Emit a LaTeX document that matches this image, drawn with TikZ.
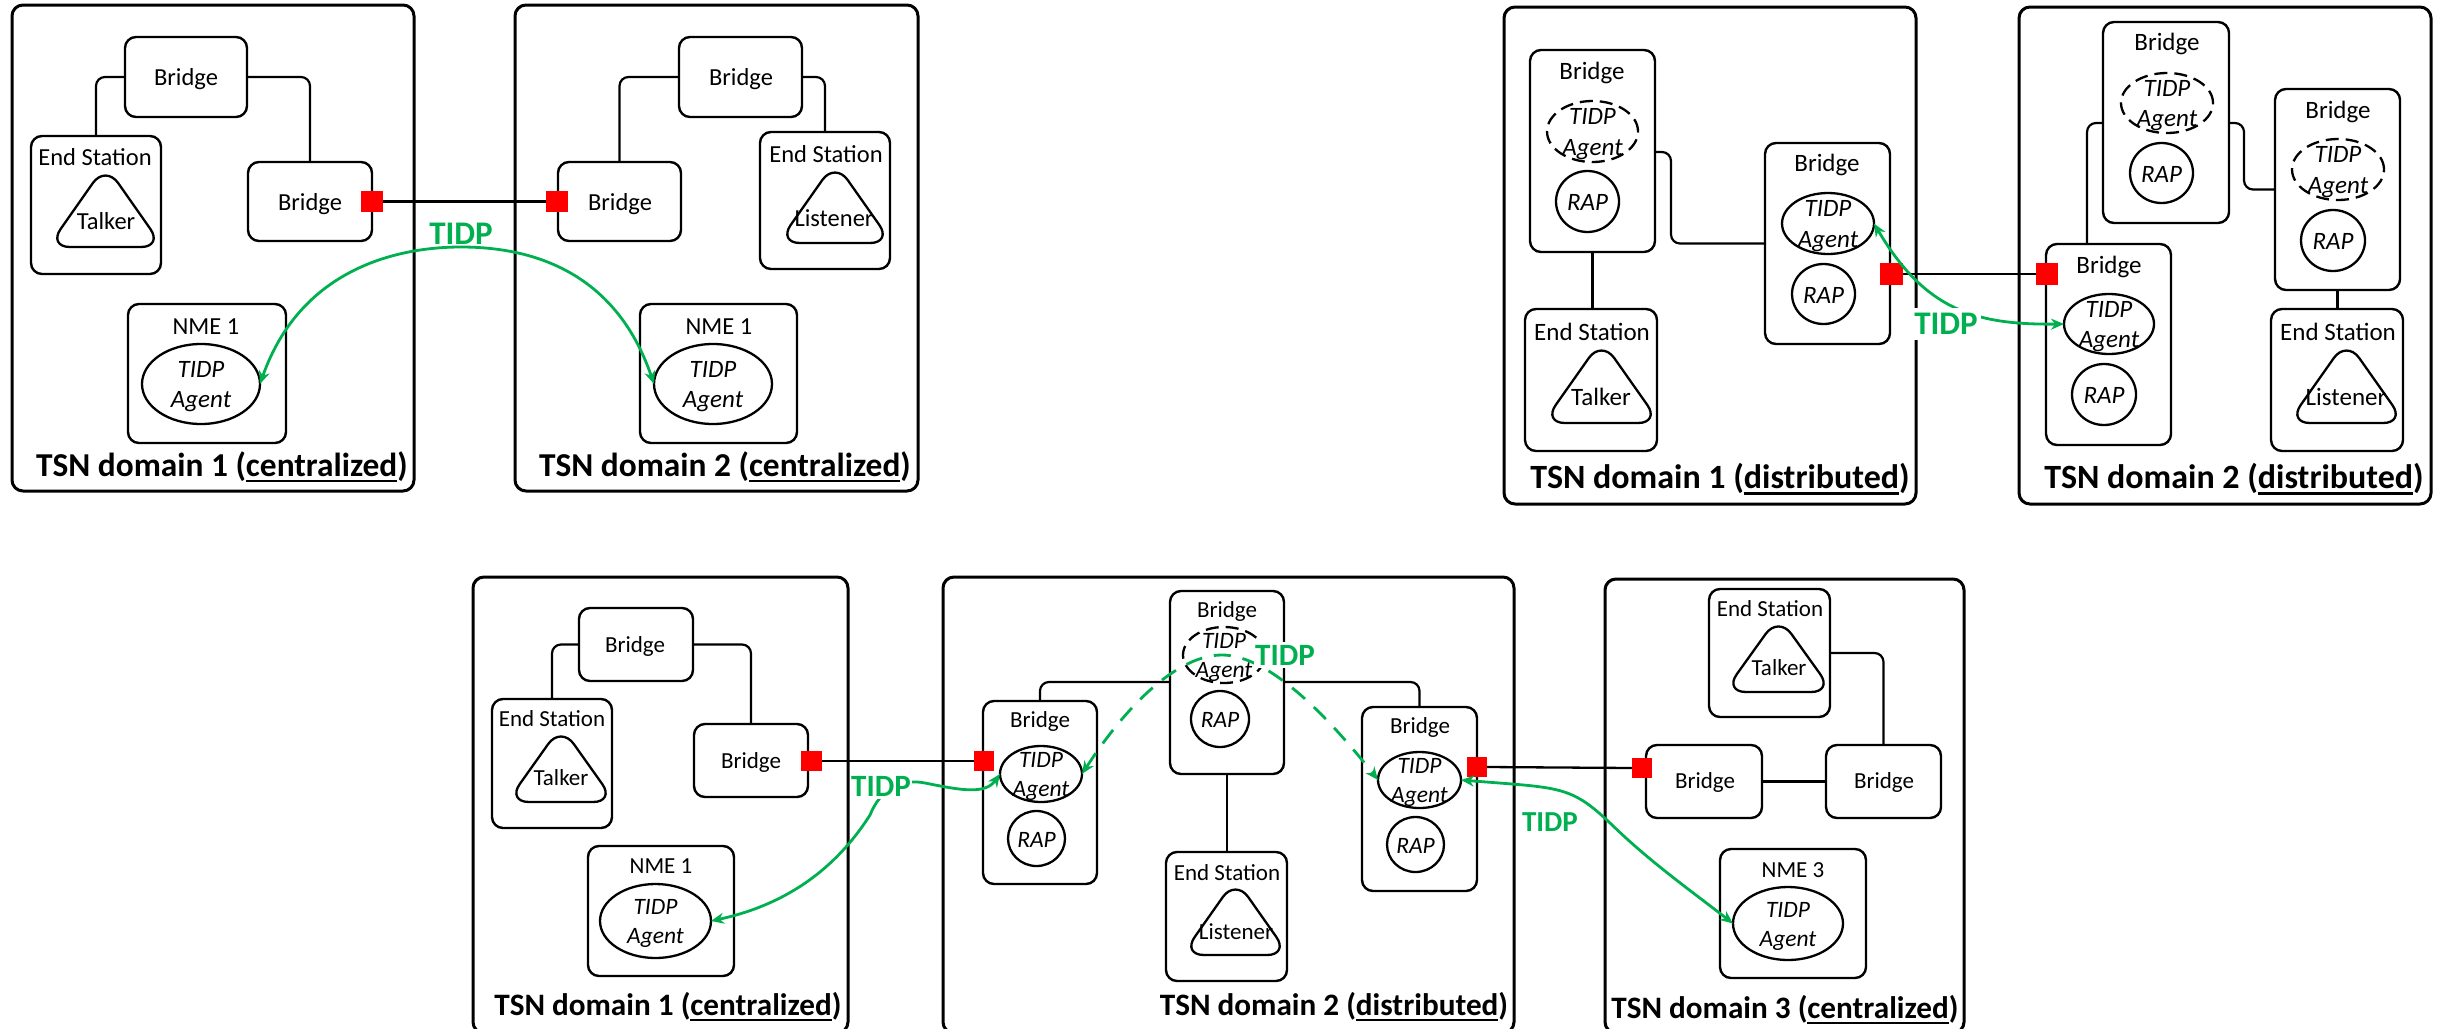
\documentclass[tikz,border=0pt]{standalone}
\usepackage{fontspec}
\setmainfont{Carlito}
\usetikzlibrary{shapes.geometric,arrows.meta}
\definecolor{tidpgreen}{HTML}{00B050}
\newcount\lc
\newcommand\fs[2]{\fontsize{#1}{#2}\selectfont}
\newcommand\ulx[1]{\leavevmode\setbox0\hbox{#1}\rlap{\vrule width\wd0 height -3.2pt depth 5.8pt}\box0}
\tikzset{
  x=1pt,y=-1pt,
  dom/.style={draw=black,line width=3pt,rounded corners=11pt,inner sep=0,outer sep=0},
  bx/.style={draw=black,line width=2.4pt,rounded corners=11pt,inner sep=0,outer sep=0},
  ell/.style={ellipse,draw=black,line width=2.3pt,inner sep=0,outer sep=0},
  dsh/.style={ell,dash pattern=on 13pt off 7pt},
  conn/.style={draw=black,line width=2.2pt,rounded corners=9pt},
  link/.style={draw=black,line width=2.3pt},
  redp/.style={fill=red,draw=none,inner sep=0,outer sep=0},
  green/.style={draw=tidpgreen,line width=2.8pt,{Stealth[length=13pt,width=11pt]}-{Stealth[length=13pt,width=11pt]}},
  gdash/.style={green,dash pattern=on 17pt off 12pt},
  tidpl/.style={text=tidpgreen,font=\bfseries\fs{#1}{#1},inner xsep=1pt,inner ysep=0pt},
  tri/.style={draw=black,line width=2.3pt,rounded corners=22pt},
}
\newcommand\bxn[6][bx]{\node[#1,minimum width={#5-#3},minimum height={#6-#4}] (#2) at ({(#3+#5)/2},{(#4+#6)/2}) {};}
\newcommand\red[5]{\node[redp,minimum width={#4-#2},minimum height={#5-#3}] (#1) at ({(#2+#4)/2},{(#3+#5)/2}) {};}
\newcommand\tx[4]{\global\advance\lc by 1 \node[inner sep=0,outer sep=0,align=center] (t\the\lc) at (#1,#2+1) {\fs{#3}{#3}#4};}
\newcommand\agent[7][ell]{\node[#1,minimum width={#5-#3},minimum height={#6-#4}] (#2) at ({(#3+#5)/2},{(#4+#6)/2}) {};
  \global\advance\lc by 1 \node[inner sep=0,outer sep=0,align=center,font=\itshape\fs{#7}{#7},yshift=-2.6pt] (t\the\lc) at (#2) {TIDP\\[5.5pt]Agent};}
\newcommand\rap[6]{\node[ell,minimum width={#4-#2},minimum height={#5-#3}] (#1) at ({(#2+#4)/2},{(#3+#5)/2}) {};
  \global\advance\lc by 1 \node[inner sep=0,outer sep=0,font=\itshape,yshift=-1pt] (t\the\lc) at (#1) {\fs{#6}{#6}RAP};}
\newcommand\trian[4]{\draw[tri] ({(#1+#3)/2},#4) -- (#3+8,#4) -- ({(#1+#3)/2},#2-9) -- (#1-8,#4) -- cycle;}
\begin{document}
\begin{tikzpicture}
\useasboundingbox (0,0) rectangle (2443,1028);
\clip (0,0) rectangle (2443,1028);
% ---------- top left
\bxn[dom]{dA}{12}{5}{414}{491}
\bxn[dom]{dB}{515}{5}{918}{491}
\bxn{aB1}{125}{37}{247}{117}
\bxn{aE1}{31}{136}{161}{274}
\bxn{aB2}{248}{162}{372}{241}
\bxn{aN1}{128}{304}{286}{443}
\bxn{aB3}{679}{37}{802}{117}
\bxn{aB4}{558}{162}{681}{241}
\bxn{aE2}{760}{132}{890}{269}
\bxn{aN2}{640}{304}{797}{443}
\draw[conn] (aB1.west) -| (aE1.north);
\draw[conn] (aB1.east) -| (aB2.north);
\draw[conn] (aB3.west) -| (aB4.north);
\draw[conn] (aB3.east) -| (aE2.north);
\trian{56}{174}{155}{247}
\trian{786}{171}{884}{243}
\agent{aA1}{142}{344}{260}{424}{25}
\agent{aA2}{654}{344}{772}{424}{25}
\red{aR1}{361}{191}{383}{212}
\red{aR2}{546}{191}{568}{212}
\draw[link] (aR1.east) -- (aR2.west);
\draw[green] (aA1.east) .. controls (300,270) and (395,247) .. (461,247) .. controls (530,247) and (615,270) .. (aA2.west);
\tx{186}{78}{24.5}{Bridge}
\tx{310}{203}{24.5}{Bridge}
\tx{741}{78}{24.5}{Bridge}
\tx{620}{203}{24.5}{Bridge}
\tx{95}{156}{24.5}{End Station}
\tx{826}{153}{24.5}{End Station}
\tx{106}{220}{24.5}{Talker}
\tx{834}{217}{24.5}{Listener}
\tx{206}{326}{24.5}{NME 1}
\tx{719}{326}{24.5}{NME 1}
\node[tidpl=33] (aTl) at (461,234) {TIDP};
\tx{222}{466}{33.4}{\bfseries TSN domain 1 (\ulx{centralized})}
\tx{725}{466}{33.4}{\bfseries TSN domain 2 (\ulx{centralized})}
% ---------- top right
\bxn[dom]{dC}{1504}{7}{1916}{504}
\bxn[dom]{dD}{2019}{7}{2431}{504}
\bxn{bA}{1530}{50}{1655}{252}
\bxn{bE1}{1525}{309}{1657}{451}
\bxn{bB}{1765}{143}{1890}{344}
\bxn{bC}{2046}{244}{2171}{445}
\bxn{bD}{2103}{22}{2229}{223}
\bxn{bF}{2275}{89}{2400}{290}
\bxn{bE2}{2271}{309}{2403}{451}
\draw[conn] (bA.east |- 0,152) -- ++(16,0) |- (bB.west);
\draw[conn] (bA.south) -- (bA.south |- bE1.north);
\draw[conn] (bD.west |- 0,123) -| (bC.north -| 2087,0);
\draw[conn] (bD.east |- 0,123) -- ++(15,0) |- (bF.west);
\draw[conn] (bF.south) -- (bF.south |- bE2.north);
\trian{1551}{349}{1652}{423}
\trian{2296}{349}{2397}{423}
\agent[dsh]{bT1}{1547}{101}{1638}{162}{25}
\agent{bT2}{1782}{193}{1874}{254}{25}
\agent{bT3}{2064}{294}{2154}{354}{25}
\agent[dsh]{bT4}{2121}{73}{2213}{133}{25}
\agent[dsh]{bT5}{2292}{139}{2384}{200}{25}
\rap{bP1}{1556}{171}{1619}{232}{25}
\rap{bP2}{1792}{264}{1855}{324}{25}
\rap{bP3}{2072}{364}{2136}{425}{25}
\rap{bP4}{2130}{143}{2193}{203}{25}
\rap{bP5}{2301}{210}{2365}{271}{25}
\red{bR1}{1880}{263}{1903}{285}
\red{bR2}{2036}{263}{2058}{285}
\draw[link] (bR1.east) -- (bR2.west);
\draw[green] (bT2.east) .. controls (1925,310) and (1975,325) .. (bT3.west);
\tx{1592}{72}{25}{Bridge}
\tx{1827}{164}{25}{Bridge}
\tx{2109}{266}{25}{Bridge}
\tx{2167}{43}{25}{Bridge}
\tx{2338}{111}{25}{Bridge}
\tx{1592}{331}{25}{End Station}
\tx{2338}{331}{25}{End Station}
\tx{1601}{396}{25}{Talker}
\tx{2346}{396}{25}{Listener}
\node[tidpl=33,fill=white,inner xsep=3pt,inner ysep=5pt] (bTl) at (1946,324) {TIDP};
\tx{1720}{478}{34}{\bfseries TSN domain 1 (\ulx{distributed})}
\tx{2234}{478}{34}{\bfseries TSN domain 2 (\ulx{distributed})}
% ---------- bottom
\bxn[dom]{dE}{473}{577}{848}{1033}
\bxn[dom]{dF}{943}{577}{1514}{1033}
\bxn[dom]{dG}{1605}{579}{1964}{1033}
\bxn{cB1}{579}{608}{693}{681}
\bxn{cE1}{492}{699}{612}{828}
\bxn{cB2}{694}{724}{808}{797}
\bxn{cN1}{588}{846}{734}{976}
\draw[conn] (cB1.west) -| (cE1.north);
\draw[conn] (cB1.east) -| (cB2.north);
\trian{515}{735}{607}{802}
\agent{cA1}{600}{884}{711}{958}{23.5}
\bxn{cL}{983}{701}{1097}{884}
\bxn{cM}{1170}{591}{1284}{774}
\bxn{cE2}{1166}{852}{1287}{981}
\bxn{cR}{1362}{707}{1477}{891}
\draw[conn] (cM.east |- 0,682) -| (cR.north);
\draw[conn] (cM.west |- 0,682) -| (cL.north);
\draw[conn] (cM.south) -- (cM.south |- cE2.north);
\trian{1190}{888}{1281}{955}
\agent[dsh]{cT1}{1183}{627}{1265}{683}{23.5}
\agent{cT2}{1000}{746}{1082}{802}{23.5}
\agent{cT3}{1378}{752}{1461}{808}{23.5}
\rap{cP1}{1191}{691}{1249}{747}{23.5}
\rap{cP2}{1008}{811}{1065}{866}{23.5}
\rap{cP3}{1387}{817}{1444}{872}{23.5}
\bxn{cE3}{1709}{589}{1830}{717}
\bxn{cB3}{1646}{745}{1762}{818}
\bxn{cB4}{1826}{745}{1941}{818}
\bxn{cN3}{1720}{849}{1866}{978}
\draw[conn] (cE3.east |- 0,653) -| (cB4.north);
\draw[conn] (cB3.east) -- (cB4.west);
\trian{1732}{625}{1825}{692}
\agent{cA3}{1733}{887}{1843}{960}{23.5}
\red{cR1}{801}{751}{822}{771}
\red{cR2}{974}{751}{994}{771}
\draw[link] (cR1.east) -- (cR2.west);
\red{cR3}{1467}{757}{1487}{777}
\red{cR4}{1632}{758}{1652}{778}
\draw[link] (cR3.east) -- (cR4.west);
% green
\draw[green] (cT2.west) .. controls (985,795) and (960,790) .. (925,783) .. controls (900,778) and (880,790) .. (870,815) .. controls (835,870) and (785,905) .. (cA1.east);
\draw[gdash] (cT2.east) .. controls (1130,700) and (1180,655) .. (1222,655) .. controls (1262,655) and (1315,700) .. (cT3.west);
\draw[green] (cT3.east) .. controls (1560,788) and (1570,785) .. (1610,823) .. controls (1650,862) and (1690,890) .. (cA3.west);
\node[tidpl=31,fill=white,inner xsep=1pt,inner ysep=3pt] (cTl1) at (881,786) {TIDP};
\node[tidpl=31,fill=white,inner xsep=1pt,inner ysep=3pt] (cTl2) at (1285,655) {TIDP};
\node[tidpl=29] (cTl3) at (1550,822) {TIDP};
\tx{635}{645}{23}{Bridge}
\tx{751}{761}{23}{Bridge}
\tx{552}{718}{23}{End Station}
\tx{561}{777}{23}{Talker}
\tx{661}{865}{23}{NME 1}
\tx{1040}{720}{23}{Bridge}
\tx{1227}{610}{23}{Bridge}
\tx{1420}{726}{23}{Bridge}
\tx{1227}{872}{23}{End Station}
\tx{1236}{931}{23}{Listener}
\tx{1770}{608}{23}{End Station}
\tx{1779}{667}{23}{Talker}
\tx{1705}{781}{23}{Bridge}
\tx{1884}{781}{23}{Bridge}
\tx{1793}{869}{23}{NME 3}
\tx{668}{1006}{31.2}{\bfseries TSN domain 1 (\ulx{centralized})}
\tx{1334}{1006}{31.2}{\bfseries TSN domain 2 (\ulx{distributed})}
\tx{1785}{1009}{31.2}{\bfseries TSN domain 3 (\ulx{centralized})}
\end{tikzpicture}
\end{document}
